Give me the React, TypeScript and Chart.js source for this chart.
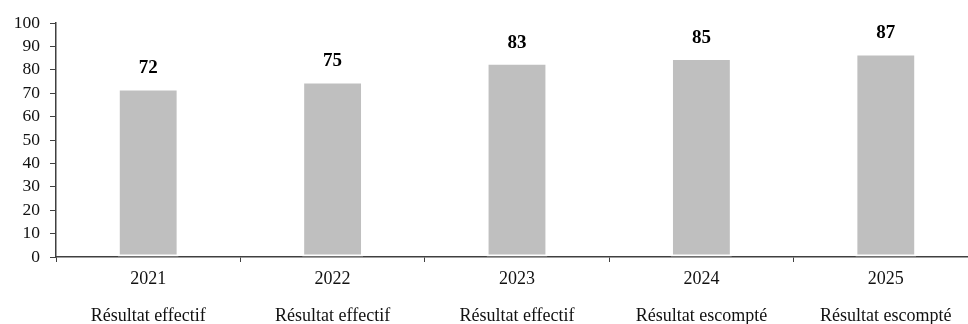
import React, { useEffect, useRef } from "react";
import { Chart, registerables } from "chart.js";

Chart.register(...registerables);

const years = ["2021", "2022", "2023", "2024", "2025"];
const statuses = ["Résultat effectif", "Résultat effectif", "Résultat effectif", "Résultat escompté", "Résultat escompté"];
const values = [72, 75, 83, 85, 87];
const yMin = 0;
const yMax = 100;
const yStep = 10;

const FONT = "'Liberation Serif', 'Times New Roman', serif";
const AXIS = "#404040";
const TEXT = "#111";

const valueLabels = {
  id: "valueLabels",
  afterDatasetsDraw(chart: any) {
    const ctx = chart.ctx;
    const meta = chart.getDatasetMeta(0);
    ctx.save();
    ctx.font = `bold 19px ${FONT}`;
    ctx.fillStyle = "#000";
    ctx.textAlign = "center";
    ctx.textBaseline = "middle";
    meta.data.forEach((bar: any, i: number) => {
      ctx.fillText(String(values[i]), bar.x, bar.y - 20);
    });
    ctx.restore();
  },
};

export default function App() {
  const ref = useRef<HTMLCanvasElement>(null);
  useEffect(() => {
    if (!ref.current) return;
    const chart = new Chart(ref.current, {
      type: "bar",
      data: {
        labels: years.map((y, i) => [y, "", statuses[i]]),
        datasets: [
          {
            data: values,
            backgroundColor: "#BFBFBF",
            borderColor: "#FFFFFF",
            borderWidth: 2,
            borderSkipped: false,
            categoryPercentage: 1,
            barPercentage: 0.33,
          },
        ],
      },
      options: {
        responsive: false,
        animation: false,
        layout: { padding: { top: 23, right: 2, bottom: 0, left: 0 } },
        plugins: { legend: { display: false }, tooltip: { enabled: false } },
        scales: {
          x: {
            offset: true,
            grid: {
              offset: true,
              drawOnChartArea: false,
              drawTicks: true,
              tickLength: 5,
              color: AXIS,
            },
            border: { display: true, color: AXIS, width: 1.5 },
            ticks: {
              color: TEXT,
              font: { family: FONT, size: 18, lineHeight: "18.5px" },
              padding: 8,
              maxRotation: 0,
              autoSkip: false,
            },
            afterFit(scale: any) {
              scale.height = 67;
            },
          },
          y: {
            min: yMin,
            max: yMax,
            ticks: {
              stepSize: yStep,
              color: TEXT,
              font: { family: FONT, size: 17.5 },
              padding: 10,
              autoSkip: false,
            },
            grid: {
              drawOnChartArea: false,
              drawTicks: true,
              tickLength: 6,
              color: AXIS,
            },
            border: { display: true, color: AXIS, width: 1.5 },
            afterFit(scale: any) {
              scale.width = 56;
            },
          },
        },
      },
      plugins: [valueLabels],
    });
    return () => chart.destroy();
  }, []);
  return (
    <div style={{ position: "fixed", left: 0, top: 0, width: 968, height: 324, overflow: "hidden", background: "#fff" }}>
      <canvas ref={ref} width={980} height={324} style={{ display: "block", width: 980, height: 324 }} />
    </div>
  );
}
